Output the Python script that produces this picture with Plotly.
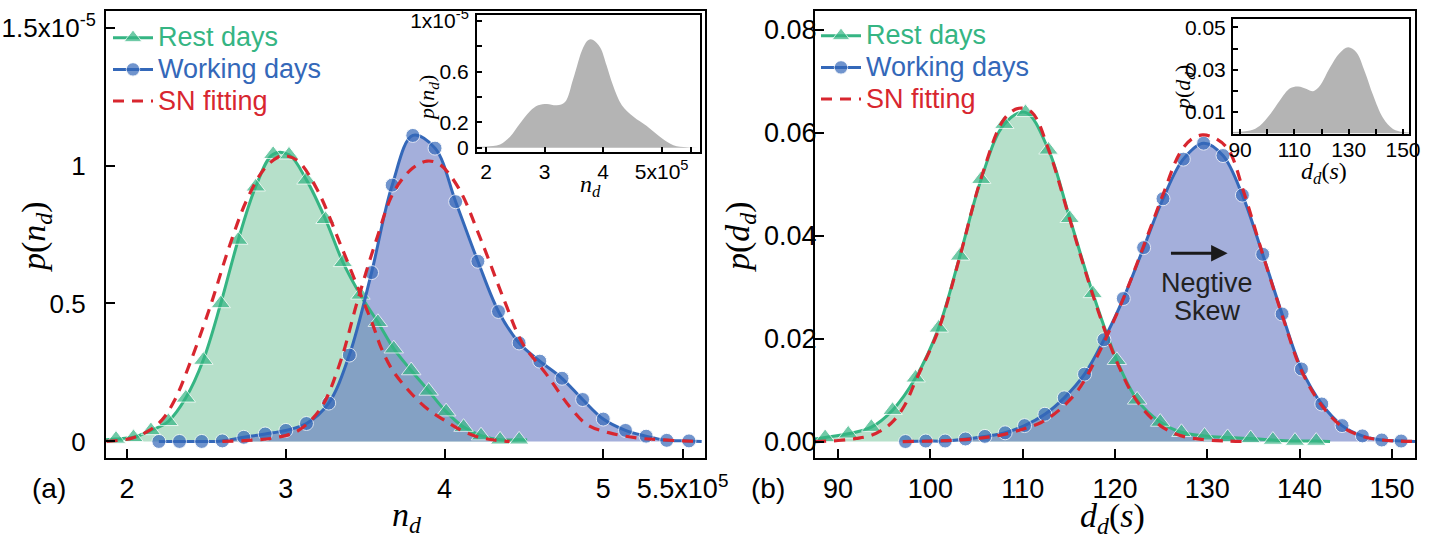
import plotly.graph_objects as go

W, H = 1437, 538
NX = 1e5   # x unit of panel (a)
NY = 1e-5  # y unit of panel (a)
# invisible superscript so short labels line up with the exponent label, as in the reference
GHOST = "<sup><span style='color:rgba(0,0,0,0)'>5</span></sup>"

# ---------------- Panel (a): n_d  (x in 1e5, y in 1e-5) ----------------
a_rest_x = [1.93, 2.04, 2.15, 2.26, 2.37, 2.48, 2.59, 2.70, 2.81, 2.92, 3.02, 3.13,
            3.25, 3.36, 3.47, 3.58, 3.68, 3.79, 3.90, 4.01, 4.12, 4.23, 4.35, 4.47]
a_rest_y = [0.009, 0.015, 0.040, 0.073, 0.158, 0.295, 0.500, 0.730, 0.923, 1.041, 1.039, 0.948,
            0.805, 0.649, 0.531, 0.432, 0.336, 0.257, 0.183, 0.108, 0.052, 0.021, 0.006, 0.006]
a_rest_ends_x = [1.867, 4.52]
a_rest_ends_y = [0.006, 0.005]

a_work_x = [2.20, 2.33, 2.47, 2.60, 2.735, 2.87, 3.00, 3.13, 3.27, 3.40, 3.54, 3.67, 3.80,
            3.94, 4.07, 4.21, 4.34, 4.47, 4.60, 4.74, 4.87, 5.00, 5.14, 5.27, 5.40, 5.54]
a_work_y = [0.0, 0.0, 0.0, 0.002, 0.015, 0.027, 0.040, 0.065, 0.139, 0.313, 0.612, 0.929, 1.109,
            1.063, 0.869, 0.653, 0.471, 0.357, 0.291, 0.229, 0.152, 0.081, 0.040, 0.019, 0.004, 0.002]
a_work_ends_x = [None, 5.62]
a_work_ends_y = [None, 0.0]

a_sn_rest_x = [1.87, 2.03, 2.14, 2.22, 2.30, 2.40, 2.53, 2.64, 2.75, 2.86, 2.95, 3.00, 3.08,
               3.20, 3.34, 3.48, 3.55, 3.60, 3.67, 3.75, 3.83, 3.91, 3.99, 4.09, 4.20, 4.30, 4.41]
a_sn_rest_y = [0.0, 0.012, 0.040, 0.078, 0.150, 0.290, 0.500, 0.700, 0.870, 0.985, 1.030, 1.035, 1.015,
               0.910, 0.720, 0.520, 0.420, 0.340, 0.260, 0.200, 0.150, 0.110, 0.080, 0.045, 0.018, 0.006, 0.0]

a_sn_work_x = [2.60, 2.80, 2.95, 3.08, 3.22, 3.34, 3.45, 3.57, 3.68, 3.80, 3.89, 3.97, 4.09,
               4.23, 4.38, 4.49, 4.64, 4.79, 4.90, 5.04, 5.21, 5.36, 5.60]
a_sn_work_y = [0.0, 0.005, 0.015, 0.040, 0.120, 0.282, 0.506, 0.730, 0.904, 0.991, 1.016, 1.004, 0.917,
               0.730, 0.506, 0.357, 0.245, 0.125, 0.060, 0.031, 0.013, 0.006, 0.0]

a_inset_x = [1.85, 2.00, 2.24, 2.41, 2.58, 2.75, 2.89, 3.04, 3.21, 3.35, 3.49, 3.66, 3.75, 3.83,
             3.95, 4.06, 4.17, 4.32, 4.52, 4.74, 4.97, 5.20, 5.43, 5.65]
a_inset_y = [0.008, 0.010, 0.026, 0.086, 0.190, 0.287, 0.334, 0.345, 0.334, 0.360, 0.543, 0.790,
             0.849, 0.849, 0.790, 0.647, 0.490, 0.334, 0.243, 0.172, 0.086, 0.020, 0.003, 0.0]

a_xticks = [2, 3, 4, 5, 5.5]
a_xlabels = ["2", "3", "4", "5", "5.5x10<sup>5</sup>"]
a_yticks = [0, 0.5, 1, 1.5]
a_ylabels = ["0", "0.5", "1", "1.5x10<sup>-5</sup>"]
a_in_xticks = [2, 3, 4, 5]
a_in_xlabels = ["2", "3", "4", "5x10<sup>5</sup>"]
a_in_xminor = [5.5]
a_in_yticks = [0, 0.2, 0.6, 1.0]
a_in_ylabels = ["0", "0.2", "0.6", "1x10<sup>-5</sup>"]
a_in_yminor = [0.4, 0.8]

# ---------------- Panel (b): d_d (s) ----------------
b_rest_x = [88.6, 91.1, 93.6, 95.9, 98.4, 100.9, 103.2, 105.5, 108.0, 110.3, 112.8, 115.1,
            117.6, 120.2, 122.4, 124.9, 127.2, 129.7, 132.2, 134.7, 137.1, 139.5, 141.8]
b_rest_y = [0.0008, 0.0015, 0.0028, 0.0061, 0.0124, 0.0221, 0.0361, 0.0510, 0.0617, 0.0640, 0.0567, 0.0434,
            0.0288, 0.0158, 0.0081, 0.0038, 0.0018, 0.0011, 0.0008, 0.0006, 0.0003, 0.0001, 0.0001]
b_rest_ends_x = [87.5, 143.3]
b_rest_ends_y = [0.0005, 0.0]

b_work_x = [97.3, 99.5, 101.6, 103.8, 105.9, 108.1, 110.2, 112.4, 114.5, 116.7, 118.8, 120.9, 123.1,
            125.2, 127.4, 129.6, 131.7, 133.8, 136.0, 138.1, 140.2, 142.4, 144.6, 146.8, 148.9, 151.0]
b_work_y = [0.0, 0.0001, 0.0001, 0.0005, 0.0010, 0.0017, 0.0031, 0.0053, 0.0085, 0.0131, 0.0198, 0.0278, 0.0377,
            0.0472, 0.0549, 0.0580, 0.0556, 0.0479, 0.0364, 0.0248, 0.0141, 0.0073, 0.0031, 0.0011, 0.0003, 0.0001]
b_work_ends_x = [None, 152.5]
b_work_ends_y = [None, 0.0]

b_sn_rest_x = [87.5, 90.0, 92.0, 93.6, 95.0, 96.0, 97.2, 98.4, 100.9, 103.2, 105.5, 108.0, 109.6,
               111.0, 112.8, 115.1, 117.6, 120.2, 122.4, 124.9, 127.2, 129.5, 132.0, 134.0]
b_sn_rest_y = [0.0, 0.0002, 0.0006, 0.0012, 0.0025, 0.0040, 0.0070, 0.0118, 0.0218, 0.0360, 0.0512, 0.0627, 0.0648,
               0.0640, 0.0568, 0.0432, 0.0285, 0.0155, 0.0078, 0.0031, 0.0011, 0.0004, 0.0001, 0.0]

b_sn_work_x = [97.0, 100.0, 103.0, 106.0, 108.0, 110.0, 112.0, 114.0, 116.0, 118.0, 120.9, 123.1, 125.2,
               127.0, 128.3, 129.5, 130.8, 132.3, 134.0, 136.0, 138.1, 140.2, 142.4, 144.6, 146.8, 149.0, 152.5]
b_sn_work_y = [0.0, 0.0001, 0.0003, 0.0008, 0.0014, 0.0024, 0.0037, 0.0062, 0.0100, 0.0163, 0.0278, 0.0380, 0.0480,
               0.0560, 0.0588, 0.0596, 0.0590, 0.0567, 0.0482, 0.0364, 0.0246, 0.0138, 0.0070, 0.0029, 0.0010, 0.0003, 0.0]

b_inset_x = [87.4, 93.7, 97.3, 101.0, 104.7, 108.4, 111.4, 114.5, 116.9, 119.4, 123.0, 126.7,
             129.8, 132.8, 135.9, 139.0, 142.6, 146.3, 150.0, 152.2]
b_inset_y = [0.0005, 0.0012, 0.0035, 0.0088, 0.0156, 0.0212, 0.0221, 0.0209, 0.0198, 0.0224, 0.0308, 0.0379,
             0.0406, 0.0383, 0.0292, 0.0179, 0.0073, 0.0020, 0.0005, 0.0003]

b_xticks = [90, 100, 110, 120, 130, 140, 150]
b_yticks = [0, 0.02, 0.04, 0.06, 0.08]
b_ylabels = ["0.00", "0.02", "0.04", "0.06", "0.08"]
b_in_xticks = [90, 110, 130, 150]
b_in_xminor = [100, 120, 140]
b_in_yticks = [0.01, 0.03, 0.05]
b_in_yminor = [0.02, 0.04]

names = ["Rest days", "Working days", "SN fitting"]

# ---------------- styles ----------------
GREEN = "#35b583"
BLUE = "#3468b9"
RED = "#d8262f"
GREEN_FILL = "#b6e0ca"
BLUE_FILL = "rgba(92,112,190,0.56)"
GRAY = "#b4b4b4"
SANS = "Liberation Sans, Arial, sans-serif"
SERIF = "Liberation Serif, Times New Roman, serif"


def px(x):
    return x / W


def py(y):
    return 1 - y / H


def with_ends(xs, ys, ex, ey, size):
    X, Y, S = [], [], []
    if ex[0] is not None:
        X.append(ex[0]); Y.append(ey[0]); S.append(0)
    X += list(xs); Y += list(ys); S += [size] * len(xs)
    if ex[1] is not None:
        X.append(ex[1]); Y.append(ey[1]); S.append(0)
    return X, Y, S


def legname(text, color):
    return f"<span style='color:{color};font-size:27px'>{text}</span>"


fig = go.Figure()


def add_panel(xa, ya, legend, sx, sy, rest, work, snr, snw):
    rx, ry, rs = with_ends(*rest, 17)
    wx, wy, ws = with_ends(*work, 14)
    rx = [v * sx for v in rx]; ry = [v * sy for v in ry]
    wx = [v * sx for v in wx]; wy = [v * sy for v in wy]
    fig.add_trace(go.Scatter(x=rx, y=ry, xaxis=xa, yaxis=ya, mode="lines", fill="tozeroy",
                             fillcolor=GREEN_FILL, line=dict(width=0, shape="spline", color=GREEN_FILL),
                             showlegend=False, hoverinfo="skip"))
    fig.add_trace(go.Scatter(x=wx, y=wy, xaxis=xa, yaxis=ya, mode="lines", fill="tozeroy",
                             fillcolor=BLUE_FILL, line=dict(width=0, shape="spline", color=BLUE_FILL),
                             showlegend=False, hoverinfo="skip"))
    fig.add_trace(go.Scatter(x=rx, y=ry, xaxis=xa, yaxis=ya, mode="lines+markers",
                             line=dict(color=GREEN, width=3, shape="spline"),
                             marker=dict(symbol="triangle-up", size=rs, color=GREEN),
                             name=legname(names[0], GREEN), legend=legend, legendrank=1))
    fig.add_trace(go.Scatter(x=wx, y=wy, xaxis=xa, yaxis=ya, mode="lines+markers",
                             line=dict(color=BLUE, width=3, shape="spline"),
                             marker=dict(symbol="circle", size=ws, color=BLUE),
                             name=legname(names[1], BLUE), legend=legend, legendrank=2))
    for i, (xs, ys) in enumerate([snr, snw]):
        fig.add_trace(go.Scatter(x=[v * sx for v in xs], y=[v * sy for v in ys], xaxis=xa, yaxis=ya,
                                 mode="lines", line=dict(color=RED, width=3.2, dash="11px,8px", shape="spline"),
                                 name=legname(names[2], RED),
                                 showlegend=(i == 0), legend=legend, legendrank=3))


add_panel("x", "y", "legend", NX, NY,
          (a_rest_x, a_rest_y, a_rest_ends_x, a_rest_ends_y),
          (a_work_x, a_work_y, a_work_ends_x, a_work_ends_y),
          (a_sn_rest_x, a_sn_rest_y), (a_sn_work_x, a_sn_work_y))
add_panel("x2", "y2", "legend2", 1, 1,
          (b_rest_x, b_rest_y, b_rest_ends_x, b_rest_ends_y),
          (b_work_x, b_work_y, b_work_ends_x, b_work_ends_y),
          (b_sn_rest_x, b_sn_rest_y), (b_sn_work_x, b_sn_work_y))

fig.add_trace(go.Scatter(x=[v * NX for v in a_inset_x], y=[v * NY for v in a_inset_y], xaxis="x3", yaxis="y3",
                         mode="lines", fill="tozeroy", fillcolor=GRAY,
                         line=dict(width=0, color=GRAY, shape="spline"), showlegend=False, hoverinfo="skip"))
fig.add_trace(go.Scatter(x=b_inset_x, y=b_inset_y, xaxis="x4", yaxis="y4",
                         mode="lines", fill="tozeroy", fillcolor=GRAY,
                         line=dict(width=0, color=GRAY, shape="spline"), showlegend=False, hoverinfo="skip"))

main_ax = dict(showgrid=False, zeroline=False, showline=True, mirror=True, linecolor="black", linewidth=2,
               ticks="inside", ticklen=9, tickwidth=2, tickcolor="black", tickangle=0, automargin=False,
               tickfont=dict(family=SANS, size=27, color="black"))
inset_ax = dict(showgrid=False, zeroline=False, showline=True, mirror=True, linecolor="black", linewidth=2,
                ticks="inside", ticklen=5, tickwidth=1.5, tickcolor="black", tickangle=0, automargin=False,
                tickfont=dict(family=SANS, size=21, color="black"))
minor_style = dict(ticks="inside", ticklen=5, tickwidth=1.5, tickcolor="black", showgrid=False)

# left y labels: short labels get an invisible exponent so they align like the reference
a_ylabels_shown = [t if "<sup>" in t else t + GHOST for t in a_ylabels]

yd = [py(458), py(11)]
fig.update_layout(
    width=W, height=H, margin=dict(l=0, r=0, t=0, b=0, pad=0, autoexpand=False),
    paper_bgcolor="white", plot_bgcolor="white",
    xaxis=dict(main_ax, domain=[px(106), px(705)], range=[1.867 * NX, 5.641 * NX], anchor="y",
               tickvals=[v * NX for v in a_xticks], ticktext=a_xlabels, ticklabelstandoff=6),
    yaxis=dict(main_ax, domain=yd, range=[-0.06 * NY, 1.56 * NY], anchor="x",
               tickvals=[v * NY for v in a_yticks], ticktext=a_ylabels_shown, ticklabelstandoff=3,
               tickfont=dict(family=SANS, size=26, color="black")),
    xaxis2=dict(main_ax, domain=[px(815), px(1415)], range=[87.5, 152.5], anchor="y2",
                tickvals=b_xticks, ticklabelstandoff=6),
    yaxis2=dict(main_ax, domain=yd, range=[-0.0032, 0.0837], anchor="x2",
                tickvals=b_yticks, ticktext=b_ylabels, ticklabelstandoff=-9),
    xaxis3=dict(inset_ax, domain=[px(477), px(700)], range=[1.846 * NX, 5.655 * NX], anchor="y3",
                tickvals=[v * NX for v in a_in_xticks], ticktext=a_in_xlabels, ticklabelstandoff=0,
                minor=dict(minor_style, tickvals=[v * NX for v in a_in_xminor])),
    yaxis3=dict(inset_ax, domain=[py(152), py(15)], range=[-0.034 * NY, 1.045 * NY], anchor="x3",
                tickvals=[v * NY for v in a_in_yticks], ticktext=a_in_ylabels, ticklabelstandoff=2,
                minor=dict(minor_style, tickvals=[v * NY for v in a_in_yminor])),
    xaxis4=dict(inset_ax, domain=[px(1233), px(1409)], range=[87.4, 152.2], anchor="y4",
                tickvals=b_in_xticks, ticklabelstandoff=-4,
                minor=dict(minor_style, tickvals=b_in_xminor)),
    yaxis4=dict(inset_ax, domain=[py(134), py(19)], range=[-0.0004, 0.054], anchor="x4",
                tickvals=b_in_yticks, tickformat=".2f", ticklabelstandoff=1,
                minor=dict(minor_style, tickvals=b_in_yminor)),
    legend=dict(x=px(108), y=py(17), xanchor="left", yanchor="top", bgcolor="rgba(0,0,0,0)",
                font=dict(family=SANS, size=22), tracegroupgap=0, itemwidth=40),
    legend2=dict(x=px(816), y=py(15), xanchor="left", yanchor="top", bgcolor="rgba(0,0,0,0)",
                 font=dict(family=SANS, size=22), tracegroupgap=0, itemwidth=40),
)

ann = []


def lab(text, x, y, size, family=SANS, angle=0, color="black", xanchor="center"):
    ann.append(dict(text=text, x=px(x), y=py(y), xref="paper", yref="paper", showarrow=False,
                    font=dict(family=family, size=size, color=color), textangle=angle,
                    xanchor=xanchor, yanchor="middle"))


lab("(a)", 49, 488, 28)
lab("(b)", 768, 488, 28)
lab("<i>n<sub>d</sub></i>", 406, 517, 34, SERIF)
lab("<i>p</i>(<i>n<sub>d</sub></i>)", 36, 237, 34, SERIF, -90)
lab("<i>d<sub>d</sub></i>(<i>s</i>)", 1112, 518, 34, SERIF)
lab("<i>p</i>(<i>d<sub>d</sub></i>)", 740, 237, 34, SERIF, -90)
lab("<i>p</i>(<i>n<sub>d</sub></i>)", 428, 98, 22, SERIF, -90)
lab("<i>n<sub>d</sub></i>", 590, 186, 24, SERIF)
lab("<i>p</i>(<i>d<sub>d</sub></i>)", 1184, 88, 22, SERIF, -90)
lab("<i>d<sub>d</sub></i>(<i>s</i>)", 1324, 173, 24, SERIF)

ann.append(dict(text="Negtive", x=130.0, y=0.0308, xref="x2", yref="y2", showarrow=False,
                font=dict(family=SANS, size=27, color="#222222")))
ann.append(dict(text="Skew", x=130.0, y=0.0254, xref="x2", yref="y2", showarrow=False,
                font=dict(family=SANS, size=27, color="#222222")))
ann.append(dict(text="", x=132.2, y=0.0366, ax=125.9, ay=0.0366, xref="x2", yref="y2",
                axref="x2", ayref="y2", showarrow=True, arrowhead=2, arrowsize=1.1, arrowwidth=3,
                arrowcolor="#1a1a1a"))

fig.update_layout(annotations=ann)
fig.write_html("out.html", config={"displayModeBar": False},
               post_script="document.body.style.margin='0';")
